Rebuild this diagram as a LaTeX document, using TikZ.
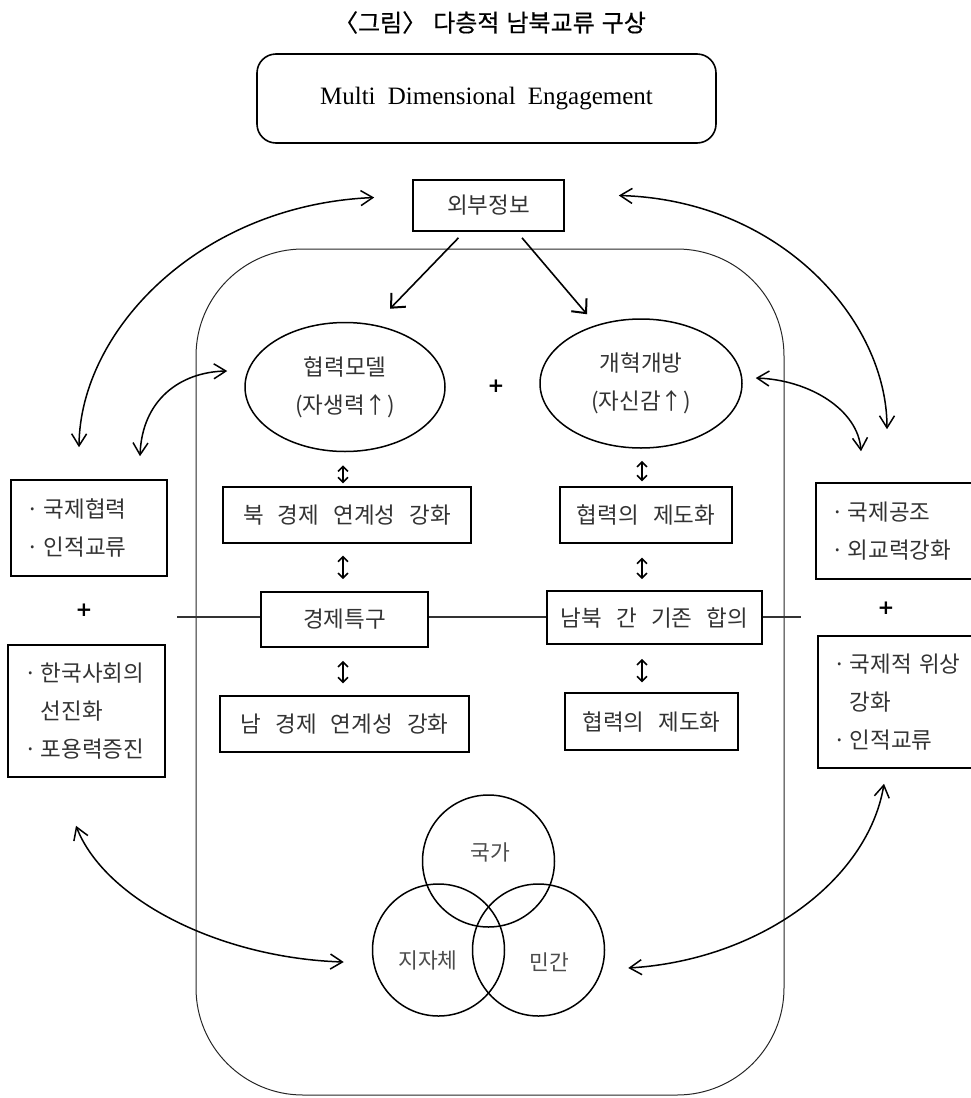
\documentclass[tikz,border=0pt]{standalone}
\usepackage{fontspec}
\newfontfamily\kr[WordSpace=2.8]{Noto Sans CJK KR}
\newfontfamily\krt[WordSpace=1.3,FakeBold=0.5]{Noto Sans CJK KR}
\newfontfamily\enserif{Liberation Serif}
\newfontfamily\plusfont{DejaVu Sans}
\usetikzlibrary{arrows.meta,calc,shapes.geometric}
\begin{document}
\begin{tikzpicture}[x=1pt,y=-1pt,
  kfont/.style={font=\kr\fontsize{22.5}{38}\selectfont,text=black!80},
  box/.style={draw,rectangle,line width=1.6pt,inner sep=0pt,kfont},
  thinbox/.style={box,line width=1.2pt},
  lbox/.style={box,align=left,inner xsep=#1},
  ell/.style={draw,ellipse,line width=1.5pt,inner sep=0pt,align=center,kfont},
  venn/.style={draw,circle,line width=1.5pt,minimum size=132pt,inner sep=0pt},
  venntext/.style={font=\kr\fontsize{21.5}{24}\selectfont,text=black!70},
  plus/.style={font=\plusfont\bfseries\fontsize{20}{24}\selectfont},
  arc/.style={line width=1.5pt,{Straight Barb[length=12pt,width=15pt]}-{Straight Barb[length=12pt,width=15pt]}},
  down/.style={line width=1.6pt,-{Straight Barb[length=11pt,width=20pt,line width=2pt]}},
  dbl/.style={line width=1.6pt,{Straight Barb[length=5pt,width=10pt]}-{Straight Barb[length=5pt,width=10pt]}},
  hline/.style={line width=1.2pt,black!80}
]
\useasboundingbox (0,0) rectangle (970,1098);

% title
\node[font=\krt\fontsize{24}{28}\selectfont] (title) at (490,22.5) {〈그림〉 다층적 남북교류 구상};

% top box
\node[draw,line width=1.6pt,rounded corners=19pt,minimum width=459pt,minimum height=89pt,
      font=\enserif\fontsize{25}{30}\selectfont] (mde) at (486.5,98.5)
      {Multi \hspace{6pt}Dimensional \hspace{6pt}Engagement};

% external information
\node[box,minimum width=151pt,minimum height=51pt] (ext) at (488.5,205.5) {외부정보};

% container
\node[draw,line width=1pt,black!85,rounded corners=107pt,minimum width=588pt,minimum height=846pt] (area) at (490,672) {};

% ellipses
\node[ell,minimum width=200pt,minimum height=129pt] (m1) at (345,387) {협력모델\\(자생력↑)};
\node[ell,minimum width=202pt,minimum height=129pt] (m2) at (641,383.5) {개혁개방\\(자신감↑)};
\node[plus] (p0) at (496,386) {+};

% centre boxes
\node[thinbox,minimum width=248pt,minimum height=56pt] (B1) at (347,515) {북 경제 연계성 강화};
\node[thinbox,minimum width=172pt,minimum height=56pt] (C1) at (646,515) {협력의 제도화};
\node[box,minimum width=167pt,minimum height=55pt] (K1) at (344.5,619.5) {경제특구};
\node[box,minimum width=215pt,minimum height=53pt] (K2) at (654.5,617.5) {남북 간 기존 합의};
\node[thinbox,minimum width=249pt,minimum height=56pt] (B3) at (344.5,724) {남 경제 연계성 강화};
\node[thinbox,minimum width=173pt,minimum height=57pt] (C2) at (651.5,721.5) {협력의 제도화};

% side boxes
\node[lbox=16pt,text width=124pt,minimum height=96pt] (L1) at (89,528)
  {\mbox{·\hspace{4pt}국제협력}\\\mbox{·\hspace{4pt}인적교류}};
\node[plus] (p1) at (84,610) {+};
\node[lbox=16pt,text width=125pt,minimum height=132pt] (L2) at (86.5,711)
  {\mbox{·\hspace{4pt}한국사회의}\\\mbox{\phantom{·}\hspace{4pt}선진화}\\\mbox{·\hspace{4pt}포용력증진}};
\node[lbox=15pt,text width=129pt,minimum height=96pt] (R1) at (895.5,531)
  {\mbox{·\hspace{4pt}국제공조}\\\mbox{·\hspace{4pt}외교력강화}};
\node[plus] (p2) at (886,608) {+};
\node[lbox=15pt,text width=127pt,minimum height=132pt] (R2) at (896.5,702)
  {\mbox{·\hspace{4pt}국제적 위상}\\\mbox{\phantom{·}\hspace{4pt}강화}\\\mbox{·\hspace{4pt}인적교류}};

% venn
\node[venn] (v1) at (488.5,861) {};
\node[venn] (v2) at (438.5,950) {};
\node[venn] (v3) at (538.5,950) {};
\node[venntext] (t1) at ($(v1.center)+(1.5,-9)$) {국가};
\node[venntext] (t2) at ($(v2.center)+(-10.5,10)$) {지자체};
\node[venntext] (t3) at ($(v3.center)+(10.5,12)$) {민간};

% horizontal line
\coordinate (hl) at (177,617);
\coordinate (hr) at (801,617);
\draw[hline] (hl) -- (hl -| K1.west);
\draw[hline] (hl -| K1.east) -- (hl -| K2.west);
\draw[hline] (hl -| K2.east) -- (hr);

% arrows from external info
\draw[down] ($(ext.south)+(-30,6)$) -- ($(m1.north)+(45,-13)$);
\draw[down] ($(ext.south)+(33.5,6)$) -- ($(m2.north)+(-54,-4)$);

% vertical double arrows
\coordinate (cl) at (343,0);
\coordinate (cr) at (642,0);
\draw[dbl,shorten <=13pt,shorten >=3pt] (m1.south -| cl) -- (B1.north -| cl);
\draw[dbl,shorten <=12pt,shorten >=12pt] (B1.south -| cl) -- (K1.north -| cl);
\draw[dbl,shorten <=13pt,shorten >=12pt] (K1.south -| cl) -- (B3.north -| cl);
\draw[dbl,shorten <=12pt,shorten >=5pt] (m2.south -| cr) -- (C1.north -| cr);
\draw[dbl,shorten <=14pt,shorten >=11pt] (C1.south -| cr) -- (K2.north -| cr);
\draw[dbl,shorten <=14pt,shorten >=10pt] (K2.south -| cr) -- (C2.north -| cr);

% curved double arrows
\draw[arc] ($(ext.west)+(-38,-8)$) .. controls (200,205) and (80,330) .. ($(L1.north)+(-10,-32)$);
\draw[arc] ($(ext.east)+(54,-10)$) .. controls (780,200) and (887,320) .. ($(R1.north)+(-8.5,-53)$);
\draw[arc] ($(m1.west)+(-17,-16)$) .. controls (180,372) and (142,400) .. ($(L1.north)+(51,-23)$);
\draw[arc] ($(m2.east)+(13,-5.5)$) .. controls (810,380) and (858,410) .. ($(R1.north)+(-34.5,-31)$);
\draw[arc] ($(L2.south)+(-10.5,48)$) .. controls (105,900) and (220,958) .. ($(v2.west)+(-28,12)$);
\draw[arc] ($(R2.south)+(-12.5,15)$) .. controls (868,880) and (760,960) .. ($(v3.east)+(23,18)$);
\end{tikzpicture}
\end{document}
